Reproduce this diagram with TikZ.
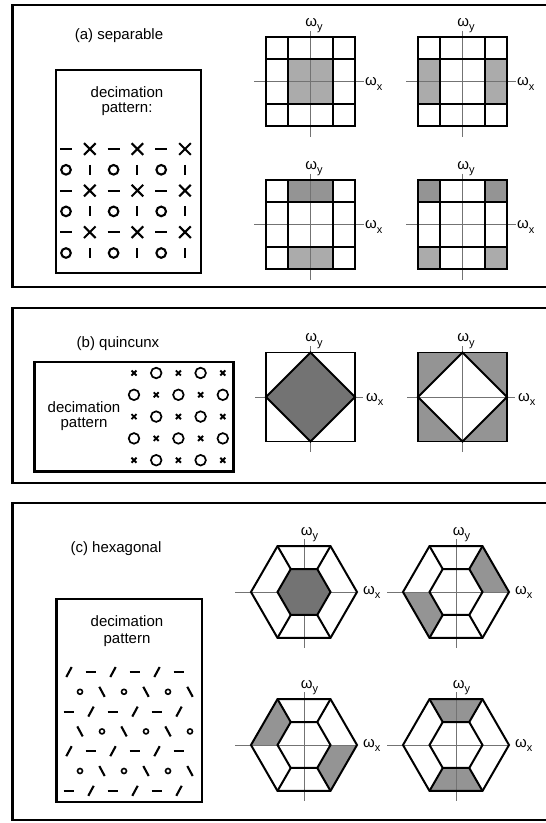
\documentclass[tikz,border=0pt]{standalone}
\usepackage{fontspec}
\setmainfont{Liberation Sans}
\newcommand\lblwy{ω\raisebox{-0.3em}{\fontsize{11}{11}\selectfont y}}
\newcommand\lblwx{ω\raisebox{-0.3em}{\fontsize{11}{11}\selectfont x}}
\tikzset{
  every node/.style={inner sep=0pt},
  panelframe/.style={line width=2.4pt},
  decbox/.style={line width=2.2pt},
  gline/.style={line width=2pt, line join=miter},
  thinbox/.style={line width=1.4pt},
  axisline/.style={line width=0.7pt, black!55},
  lab/.style={font=\fontsize{15}{15}\selectfont, anchor=base},
  sym/.style={line width=2.1pt},
  shadeL/.style={fill=black!33},
  shadeM/.style={fill=black!42},
  shadeD/.style={fill=black!55},
  symdash/.pic={\draw[sym] (-6,0) -- (6,0);},
  symx/.pic={\draw[sym] (-5.8,-5.8) -- (5.8,5.8) (-5.8,5.8) -- (5.8,-5.8);},
  symo/.pic={\draw[sym] (0,0) circle[radius=4.8];},
  symbar/.pic={\draw[sym] (0,-5) -- (0,5);},
  qx/.pic={\draw[line width=1.9pt] (-2.5,-2.5) -- (2.5,2.5) (-2.5,2.5) -- (2.5,-2.5);},
  qo/.pic={\draw[line width=1.7pt] (0,0) circle[radius=5.3];},
  hs/.pic={\draw[sym] (-2.7,5) -- (2.7,-5);},
  hb/.pic={\draw[sym] (-2.7,-5) -- (2.7,5);},
  hd/.pic={\draw[sym] (-5.3,0) -- (5.3,0);},
  ho/.pic={\draw[line width=1.6pt] (0,0) circle[radius=2.5];},
}
% separable grid: cx, cy, name, fills
\newcommand\sepgrid[4]{%
 \begin{scope}[shift={(#1,#2)}]
  #4
  \draw[axisline] (-56.5,0) -- (53,0);
  \draw[axisline] (0,-51) -- (0,55);
  \draw[gline] (-44.5,-44.5) rectangle (44.5,44.5);
  \draw[gline] (-22.25,-44.5) -- (-22.25,44.5) (22.25,-44.5) -- (22.25,44.5)
     (-44.5,-22.25) -- (44.5,-22.25) (-44.5,22.25) -- (44.5,22.25);
  \node[lab, anchor=base west] (#3y) at (-5.4,-55.5) {\lblwy};
  \node[lab, anchor=base west] (#3x) at (54.5,4) {\lblwx};
 \end{scope}}
% quincunx: cx, cy, name, fills
\newcommand\quinc[4]{%
 \begin{scope}[shift={(#1,#2)}]
  #4
  \draw[axisline] (-55.5,0) -- (52.5,0);
  \draw[axisline] (0,-51) -- (0,55);
  \draw[thinbox] (-44.5,-44.5) rectangle (44.5,44.5);
  \draw[gline] (0,-44.5) -- (44.5,0) -- (0,44.5) -- (-44.5,0) -- cycle;
  \node[lab, anchor=base west] (#3y) at (-5.4,-55.5) {\lblwy};
  \node[lab, anchor=base west] (#3x) at (55.5,4) {\lblwx};
 \end{scope}}
\newcommand\trap[2]{(#1:53) -- (#2:53) -- (#2:26.5) -- (#1:26.5) -- cycle}
% hexagonal: cx, cy, name, fills
\newcommand\hexd[4]{%
 \begin{scope}[shift={(#1,#2)}]
  #4
  \draw[axisline] (-69,0) -- (53,0);
  \draw[axisline] (0,-53) -- (0,56);
  \draw[gline] (0:53) -- (60:53) -- (120:53) -- (180:53) -- (240:53) -- (300:53) -- cycle;
  \draw[gline] (0:26.5) -- (60:26.5) -- (120:26.5) -- (180:26.5) -- (240:26.5) -- (300:26.5) -- cycle;
  \draw[gline] (60:26.5) -- (60:53) (120:26.5) -- (120:53) (240:26.5) -- (240:53) (300:26.5) -- (300:53);
  \node[lab, anchor=base west] (#3y) at (-3.4,-57) {\lblwy};
  \node[lab, anchor=base west] (#3x) at (59,2) {\lblwx};
 \end{scope}}
\begin{document}
\begin{tikzpicture}[x=1pt, y=-1pt]
\useasboundingbox (0,0) rectangle (546,823);
% ---------- panel frames
\draw[panelframe] (547,5) -| (12.5,287) -- (547,287);
\draw[panelframe] (547,308) -| (12.5,483) -- (547,483);
\draw[panelframe] (547,503) -| (12.5,820) -- (547,820);

% ---------- (a) separable
\node[lab] (atitle) at (119,39) {(a) separable};
\draw[decbox] (56,70) rectangle (201,273);
\node[lab] (adec1) at (127,97) {decimation};
\node[lab] (adec2) at (127,112) {pattern:};
\foreach \rr in {0,...,5} {
  \foreach \cc in {0,...,5} {
    \pgfmathsetmacro\xx{66+23.8*\cc}
    \pgfmathsetmacro\yy{149+20.8*\rr}
    \ifodd\rr
      \ifodd\cc \pic at (\xx,\yy) {symbar}; \else \pic at (\xx,\yy) {symo}; \fi
    \else
      \ifodd\cc \pic at (\xx,\yy) {symx}; \else \pic at (\xx,\yy) {symdash}; \fi
    \fi
  }
}
\sepgrid{310.5}{81.5}{ga}{\fill[shadeL] (-22.25,-22.25) rectangle (22.25,22.25);}
\sepgrid{462.5}{81.5}{gb}{\fill[shadeL] (-44.5,-22.25) rectangle (-22.25,22.25) (22.25,-22.25) rectangle (44.5,22.25);}
\sepgrid{310.5}{224.5}{gc}{\fill[shadeM] (-22.25,-44.5) rectangle (22.25,-22.25); \fill[shadeL] (-22.25,22.25) rectangle (22.25,44.5);}
\sepgrid{462.5}{224.5}{gd}{\fill[shadeM] (-44.5,-44.5) rectangle (-22.25,-22.25) (22.25,-44.5) rectangle (44.5,-22.25); \fill[shadeL] (-44.5,22.25) rectangle (-22.25,44.5) (22.25,22.25) rectangle (44.5,44.5);}

% ---------- (b) quincunx
\node[lab] (btitle) at (118,347) {(b) quincunx};
\draw[decbox] (34.5,362) rectangle (233.5,471.5);
\node[lab] (bdec1) at (84,412) {decimation};
\node[lab] (bdec2) at (84,427) {pattern};
\foreach \rr in {0,...,4} {
  \foreach \cc in {0,...,4} {
    \pgfmathsetmacro\xx{134+22.2*\cc}
    \pgfmathsetmacro\yy{373+21.8*\rr}
    \pgfmathtruncatemacro\pp{\rr+\cc}
    \ifodd\pp \pic at (\xx,\yy) {qo}; \else \pic at (\xx,\yy) {qx}; \fi
  }
}
\quinc{310.5}{397}{qa}{\fill[shadeD] (0,-44.5) -- (44.5,0) -- (0,44.5) -- (-44.5,0) -- cycle;}
\quinc{462.5}{397}{qb}{\fill[shadeM, even odd rule] (-44.5,-44.5) rectangle (44.5,44.5) (0,-44.5) -- (44.5,0) -- (0,44.5) -- (-44.5,0) -- cycle;}

% ---------- (c) hexagonal
\node[lab] (ctitle) at (116,552) {(c) hexagonal};
\draw[decbox] (56.5,599) rectangle (202,802);
\node[lab] (cdec1) at (127,626) {decimation};
\node[lab] (cdec2) at (127,643) {pattern};
\foreach \rr/\lst in {0/{hs,hd,hs,hd,hs,hd},1/{ho,hb,ho,hb,ho,hb},2/{hd,hs,hd,hs,hd,hs},3/{hb,ho,hb,ho,hb,ho},4/{hs,hd,hs,hd,hs,hd},5/{ho,hb,ho,hb,ho,hb},6/{hd,hs,hd,hs,hd,hs}} {
  \foreach \sy [count=\ii from 0] in \lst {
    \pgfmathsetmacro\xx{(isodd(\rr) ? 80 : 69) + 22*\ii}
    \pgfmathsetmacro\yy{672+19.8*\rr}
    \pic at (\xx,\yy) {\sy};
  }
}
\hexd{304}{592}{ha}{\fill[shadeD] (0:26.5) -- (60:26.5) -- (120:26.5) -- (180:26.5) -- (240:26.5) -- (300:26.5) -- cycle;}
\hexd{456}{592}{hb}{\fill[shadeM] \trap{300}{360} \trap{120}{180};}
\hexd{304}{745}{hc}{\fill[shadeM] \trap{180}{240} \trap{0}{60};}
\hexd{456}{745}{hd}{\fill[shadeM] \trap{240}{300} \trap{60}{120};}
\end{tikzpicture}
\end{document}
